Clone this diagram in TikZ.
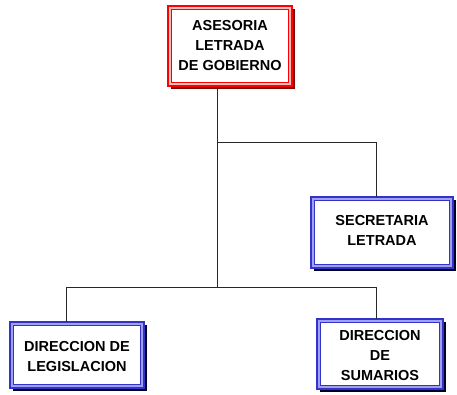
\documentclass[tikz,border=0pt]{standalone}
\usepackage{fontspec}
\setmainfont{Liberation Sans}[BoldFont={Liberation Sans Bold}]
\usetikzlibrary{calc}
\definecolor{rmain}{RGB}{255,0,0}
\definecolor{rband}{RGB}{255,190,190}
\definecolor{rshadow}{RGB}{130,0,0}
\definecolor{bmain}{RGB}{51,51,204}
\definecolor{bband}{RGB}{160,160,240}
\definecolor{bshadow}{RGB}{0,0,40}
\definecolor{conn}{RGB}{40,40,40}
\tikzset{
  boxframe/.style={line width=2pt, inner sep=0pt, outer sep=0pt},
  boxtext/.style={font=\fontsize{14.5}{20}\selectfont\bfseries, align=center, inner sep=0pt, text=black},
  connector/.style={draw=conn, line width=1pt}
}
\newcommand\orgbox[8]{%
  \fill[#8] (#2+3,#3+3) rectangle (#4+3,#5+3);
  \node[boxframe, draw=#6, fill=#7, minimum width=#4-#2, minimum height=#5-#3] (#1) at ({(#2+#4)/2},{(#3+#5)/2}) {};
  \draw[#6, line width=1pt, fill=white] ($(#1.north west)+(3.5,3.5)$) rectangle ($(#1.south east)+(-3.5,-3.5)$);
}
\begin{document}
\begin{tikzpicture}[x=1pt,y=-1pt]
\useasboundingbox (0,0) rectangle (457,394);
\orgbox{top}{168}{6}{292}{86}{rmain}{rband}{rshadow}
\orgbox{sec}{311}{197}{453}{268}{bmain}{bband}{bshadow}
\orgbox{leg}{10}{322}{144}{388}{bmain}{bband}{bshadow}
\orgbox{sum}{317}{319}{443}{389}{bmain}{bband}{bshadow}
\node[boxtext] (top-t) at ($(top)+(0,0)$) {ASESORIA\\LETRADA\\DE GOBIERNO};
\node[boxtext] (sec-t) at ($(sec)+(0,-2)$) {SECRETARIA\\LETRADA};
\node[boxtext] (leg-t) at ($(leg)+(0,1)$) {DIRECCION DE\\LEGISLACION};
\node[boxtext] (sum-t) at ($(sum)+(0,1.5)$) {DIRECCION\\DE\\SUMARIOS};
\coordinate (stemtop) at (217,0 |- top.south);
\coordinate (bus) at (217,287);
\coordinate (branch) at (217,142);
\coordinate (secturn) at (376,142);
\coordinate (legturn) at (66,287);
\coordinate (sumturn) at (376,287);
\draw[connector] ([yshift=-1pt]top.south -| stemtop) -- (bus);
\draw[connector] (branch) -- (secturn) -- (secturn |- sec.north);
\draw[connector] (legturn) -- (sumturn);
\draw[connector] (legturn) -- (legturn |- leg.north);
\draw[connector] (sumturn) -- (sumturn |- sum.north);
\end{tikzpicture}
\end{document}
